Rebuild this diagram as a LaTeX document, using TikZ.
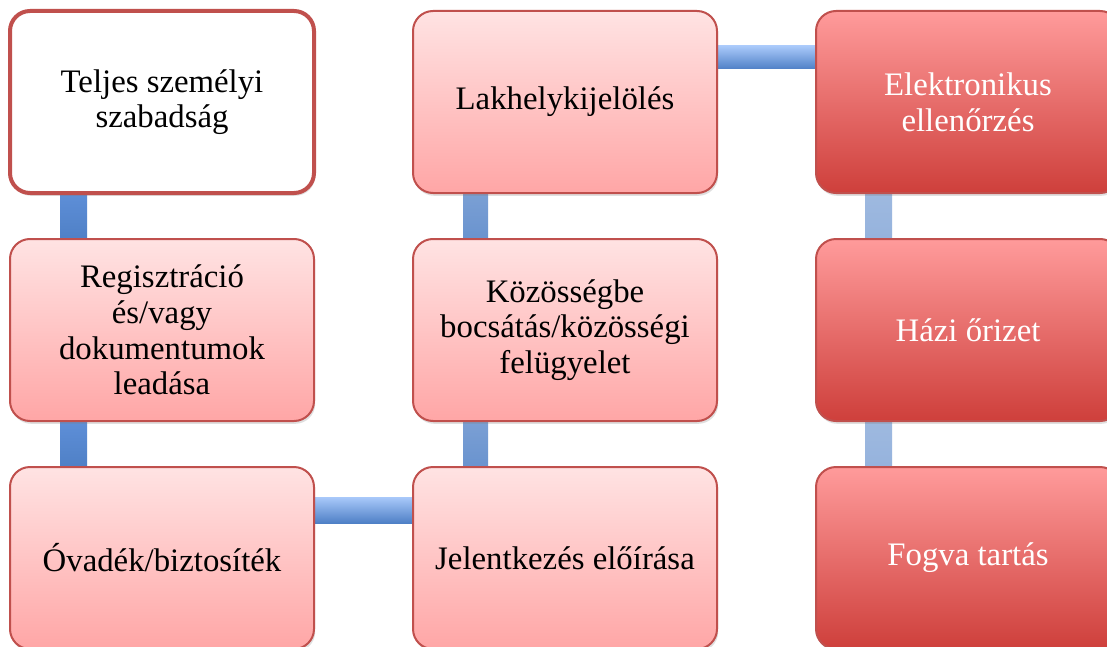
\documentclass[tikz,border=0pt]{standalone}
\usepackage{fontspec}
\setmainfont{Liberation Serif}
\usetikzlibrary{positioning,shadows,backgrounds}

\definecolor{boxline}{HTML}{C0504D}
\definecolor{pinktop}{HTML}{FFE3E3}
\definecolor{pinkbot}{HTML}{FFA6A6}
\definecolor{redtop}{HTML}{FF9B9B}
\definecolor{redmid}{HTML}{EA7674}
\definecolor{redbot}{HTML}{CE3F3B}
\definecolor{linktop}{HTML}{A9C9FA}
\definecolor{linkbot}{HTML}{4F80C6}
\definecolor{linkmid}{HTML}{5E8FD8}

\tikzset{
  stage/.style={rectangle, rounded corners=10pt, draw=boxline, line width=1pt,
    minimum width=152pt, minimum height=91pt, inner sep=3pt, outer sep=0pt,
    align=center, font=\fontsize{16.4}{17.8}\selectfont,
    drop shadow={opacity=0.25, shadow xshift=0.6pt, shadow yshift=-1.4pt}},
  freebox/.style={stage, fill=white, line width=2pt},
  lightbox/.style={stage, top color=pinktop, bottom color=pinkbot},
  darkbox/.style={stage, top color=redtop, middle color=redmid, bottom color=redbot, text=white},
  hlink/.style={top color=linktop, bottom color=linkbot},
}

\begin{document}
\begin{tikzpicture}[line join=round]
  % frame of the picture
  \useasboundingbox (0,0) rectangle (553.5pt,-323.5pt);
  \clip (0,0) rectangle (553.5pt,-323.5pt);

  % first column
  \node[freebox, anchor=north west] (teljes) at (5pt,-5.5pt) {Teljes személyi\\szabadság};
  \node[lightbox, below=23pt of teljes] (regisztracio) {Regisztráció\\és/vagy\\dokumentumok\\leadása};
  \node[lightbox, below=23pt of regisztracio] (ovadek) {Óvadék/biztosíték};

  % second column
  \node[lightbox, right=49.5pt of teljes] (lakhely) {Lakhelykijelölés};
  \node[lightbox, below=23pt of lakhely] (kozosseg) {Közösségbe\\bocsátás/közösségi\\felügyelet};
  \node[lightbox, below=23pt of kozosseg] (jelentkezes) {Jelentkezés előírása};

  % third column
  \node[darkbox, right=49.5pt of lakhely] (elektronikus) {Elektronikus\\ellenőrzés};
  \node[darkbox, below=23pt of elektronikus] (hazi) {Házi őrizet};
  \node[darkbox, below=23pt of hazi] (fogva) {Fogva tartás};

  % connectors behind the boxes
  \begin{scope}[on background layer]
    \fill[white] (0,0) rectangle (553.5pt,-323.5pt);
    \shade[top color=linkmid, bottom color=linkbot] ([xshift=25pt]teljes.south west) rectangle ([xshift=38.5pt]regisztracio.north west);
    \shade[top color=linkmid, bottom color=linkbot] ([xshift=25pt]regisztracio.south west) rectangle ([xshift=38.5pt]ovadek.north west);
    \shade[hlink] ([yshift=-15pt]ovadek.north east) rectangle ([yshift=-28pt]jelentkezes.north west);
    \shade[top color=linkbot!75, bottom color=linkbot!85] ([xshift=25pt]jelentkezes.north west) rectangle ([xshift=37.5pt]kozosseg.south west);
    \shade[top color=linkbot!75, bottom color=linkbot!85] ([xshift=25pt]kozosseg.north west) rectangle ([xshift=37.5pt]lakhely.south west);
    \shade[hlink] ([yshift=-17.5pt]lakhely.north east) rectangle ([yshift=-29pt]elektronikus.north west);
    \shade[top color=linkbot!55, bottom color=linkbot!60] ([xshift=24.5pt]elektronikus.south west) rectangle ([xshift=38pt]hazi.north west);
    \shade[top color=linkbot!55, bottom color=linkbot!60] ([xshift=24.5pt]hazi.south west) rectangle ([xshift=38pt]fogva.north west);
  \end{scope}
\end{tikzpicture}
\end{document}
